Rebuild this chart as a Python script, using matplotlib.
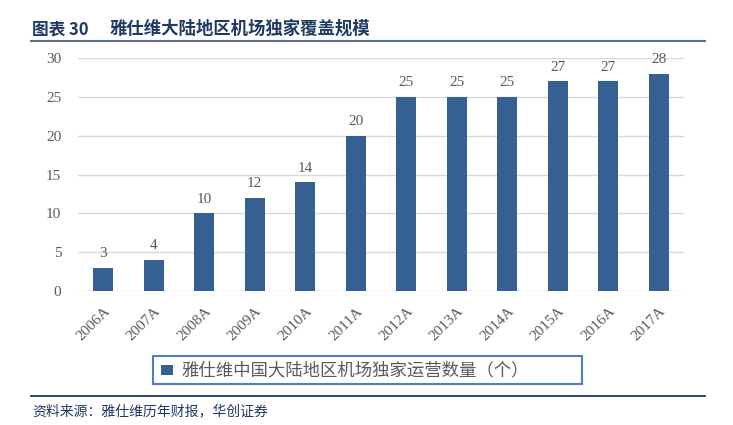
import matplotlib
matplotlib.use('Agg')
import matplotlib.pyplot as plt
from matplotlib.patches import Rectangle
from matplotlib.lines import Line2D

# ── Data ─────────────────────────────────────────────────────────
years = ['2006A', '2007A', '2008A', '2009A', '2010A', '2011A',
         '2012A', '2013A', '2014A', '2015A', '2016A', '2017A']
airports = [3, 4, 10, 12, 14, 20, 25, 25, 25, 27, 27, 28]
yticks = [0, 5, 10, 15, 20, 25, 30]

title_no = '图表 30'
title = '雅仕维大陆地区机场独家覆盖规模'
legend_label = '雅仕维中国大陆地区机场独家运营数量（个）'
source = '资料来源：雅仕维历年财报，华创证券'

BAR = '#376092'
NAVY = '#1F3864'
GRAY = '#595959'
CJK = ['Noto Sans CJK SC', 'DejaVu Sans']
SERIF = ['Liberation Serif', 'DejaVu Serif']

W, H = 733, 425
fig = plt.figure(figsize=(W / 100, H / 100), dpi=100)
ax = fig.add_axes([78 / W, 1 - 291 / H, (684 - 78) / W, (291 - 58) / H])

x = range(len(years))
ax.bar(x, airports, width=0.4, color=BAR, zorder=3)
for i, v in zip(x, airports):
    ax.text(i, v + 1.0, str(v), ha='center', va='bottom',
            fontsize=11, color=GRAY, family=SERIF)

ax.set_xlim(-0.5, len(years) - 0.5)
ax.set_ylim(0, 30)
ax.set_yticks(yticks)
ax.set_yticklabels([str(t) for t in yticks], family=SERIF,
                   fontsize=11, color=GRAY)
ax.set_xticks(list(x))
ax.set_xticklabels(years, rotation=45, ha='right', va='top',
                   rotation_mode='anchor', family=SERIF,
                   fontsize=11, color=GRAY)
ax.tick_params(axis='both', length=0)
ax.tick_params(axis='x', pad=10)
ax.tick_params(axis='y', pad=12)
ax.grid(axis='y', color='#d9d9d9', lw=1.0, zorder=0)
for s in ax.spines.values():
    s.set_visible(False)

# ── Title and rules ──────────────────────────────────────────────
fig.text(32 / W, 1 - 29 / H, title_no, fontsize=12, fontweight='bold',
         color=NAVY, family=CJK, va='center')
fig.text(110 / W, 1 - 29 / H, title, fontsize=12.5, fontweight='bold',
         color=NAVY, family=CJK, va='center')
fig.add_artist(Line2D([31 / W, 705 / W], [1 - 41 / H] * 2,
                      color='#5a6f8f', lw=1.5))
fig.add_artist(Line2D([31 / W, 705 / W], [1 - 396 / H] * 2,
                      color=NAVY, lw=1.3))
fig.text(32 / W, 1 - 411 / H, source, fontsize=10, style='italic',
         color=NAVY, family=CJK, va='center')

# ── Legend box ───────────────────────────────────────────────────
fig.add_artist(Rectangle((153 / W, 1 - 384 / H), (582 - 153) / W,
                         (384 - 356) / H, fill=False,
                         edgecolor='#4f7ec4', lw=1.5))
fig.add_artist(Rectangle((161 / W, 1 - 375 / H), 12 / W, 10 / H,
                         facecolor=BAR, edgecolor='none'))
fig.text(182 / W, 1 - 370 / H, legend_label, fontsize=12.5,
         color=GRAY, family=CJK, va='center')

fig.savefig('out.png', dpi=100, facecolor='white')
